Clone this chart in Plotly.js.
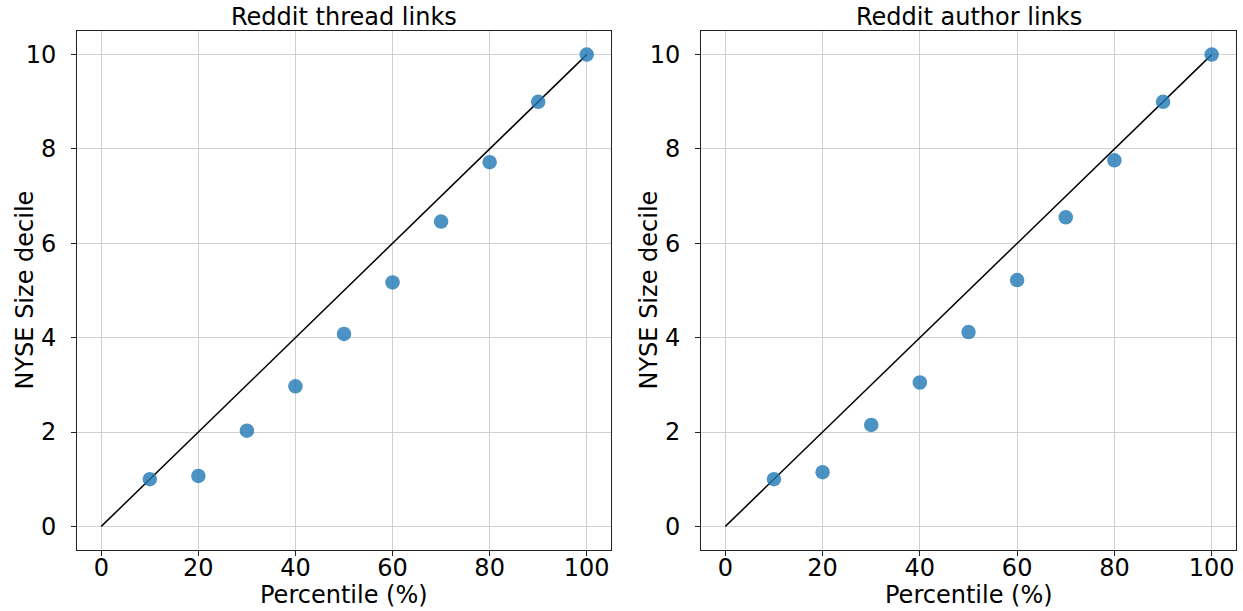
<!DOCTYPE html>
<html>
<head>
<meta charset="utf-8">
<script src="https://cdn.plot.ly/plotly-3.0.1.min.js"></script>
<style>html,body{margin:0;padding:0;background:#fff;}#chart{width:1243px;height:611px;}</style>
</head>
<body>
<div id="chart"></div>
<script>
const percentiles = [10, 20, 30, 40, 50, 60, 70, 80, 90, 100];
const threadDecile = [1.0, 1.07, 2.03, 2.97, 4.08, 5.17, 6.46, 7.72, 9.0, 10.0];
const authorDecile = [1.0, 1.15, 2.15, 3.05, 4.12, 5.22, 6.55, 7.76, 9.0, 10.0];
const refLineX = [0, 100];
const refLineY = [0, 10];
const titles = ["Reddit thread links", "Reddit author links"];
const xTitle = "Percentile (%)";
const yTitle = "NYSE Size decile";
const xTicks = [0, 20, 40, 60, 80, 100];
const yTicks = [0, 2, 4, 6, 8, 10];

const FONT = "DejaVu Sans, sans-serif";
const FS = 24;
const TFS = 24;
const markerColor = "rgba(31,119,180,0.8)";

function scatter(y, xa, ya) {
  return {x: percentiles, y: y, xaxis: xa, yaxis: ya, type: "scatter", mode: "markers",
    marker: {size: 14.5, color: markerColor, line: {width: 0}}, hoverinfo: "skip", showlegend: false};
}
function refLine(xa, ya) {
  return {x: refLineX, y: refLineY, xaxis: xa, yaxis: ya, type: "scatter", mode: "lines",
    line: {color: "black", width: 1.5}, hoverinfo: "skip", showlegend: false};
}
const data = [refLine("x", "y"), scatter(threadDecile, "x", "y"), refLine("x2", "y2"), scatter(authorDecile, "x2", "y2")];

function xaxis(domain, anchor) {
  return {domain: domain, anchor: anchor, range: [-5, 105], tickvals: xTicks, ticktext: xTicks.map(String),
    showgrid: true, gridcolor: "#d0d0d0", gridwidth: 1, zeroline: false,
    showline: true, linecolor: "#222", linewidth: 1, mirror: true,
    ticks: "outside", ticklen: 5, tickcolor: "#222", tickfont: {family: FONT, size: TFS, color: "#000"},
    ticklabelstandoff: -9};
}
function yaxis(domain, anchor) {
  return {domain: domain, anchor: anchor, range: [-0.5, 10.5], tickvals: yTicks, ticktext: yTicks.map(String),
    showgrid: true, gridcolor: "#d0d0d0", gridwidth: 1, zeroline: false,
    showline: true, linecolor: "#222", linewidth: 1, mirror: true,
    ticks: "outside", ticklen: 5, tickcolor: "#222", tickfont: {family: FONT, size: TFS, color: "#000"},
    ticklabelstandoff: 10};
}
const yDom = [1 - 550/611, 1 - 31/611];
const x1Dom = [77/1243, 611/1243];
const x2Dom = [701/1243, 1236/1243];

function ann(text, x, y, xa, ya, angle) {
  return {text: text, xref: "paper", yref: "paper", x: x, y: y, xanchor: xa, yanchor: ya,
    textangle: angle || 0, showarrow: false, font: {family: FONT, size: FS, color: "#000"}};
}
const layout = {
  width: 1243, height: 611,
  margin: {l: 0, r: 0, t: 0, b: 0},
  paper_bgcolor: "#fff", plot_bgcolor: "#fff",
  font: {family: FONT, size: FS, color: "#000"},
  xaxis: xaxis(x1Dom, "y"), yaxis: yaxis(yDom, "x"),
  xaxis2: xaxis(x2Dom, "y2"), yaxis2: yaxis(yDom, "x2"),
  annotations: [
    ann(titles[0], (x1Dom[0]+x1Dom[1])/2, 1 - 17/611, "center", "middle"),
    ann(titles[1], (x2Dom[0]+x2Dom[1])/2, 1 - 17/611, "center", "middle"),
    ann(xTitle, (x1Dom[0]+x1Dom[1])/2, 1 - 595/611, "center", "middle"),
    ann(xTitle, (x2Dom[0]+x2Dom[1])/2, 1 - 595/611, "center", "middle"),
    ann(yTitle, 24/1243, (yDom[0]+yDom[1])/2, "center", "middle", -90),
    ann(yTitle, 648/1243, (yDom[0]+yDom[1])/2, "center", "middle", -90)
  ]
};
Plotly.newPlot("chart", data, layout, {displayModeBar: false, staticPlot: true});
</script>
</body>
</html>
